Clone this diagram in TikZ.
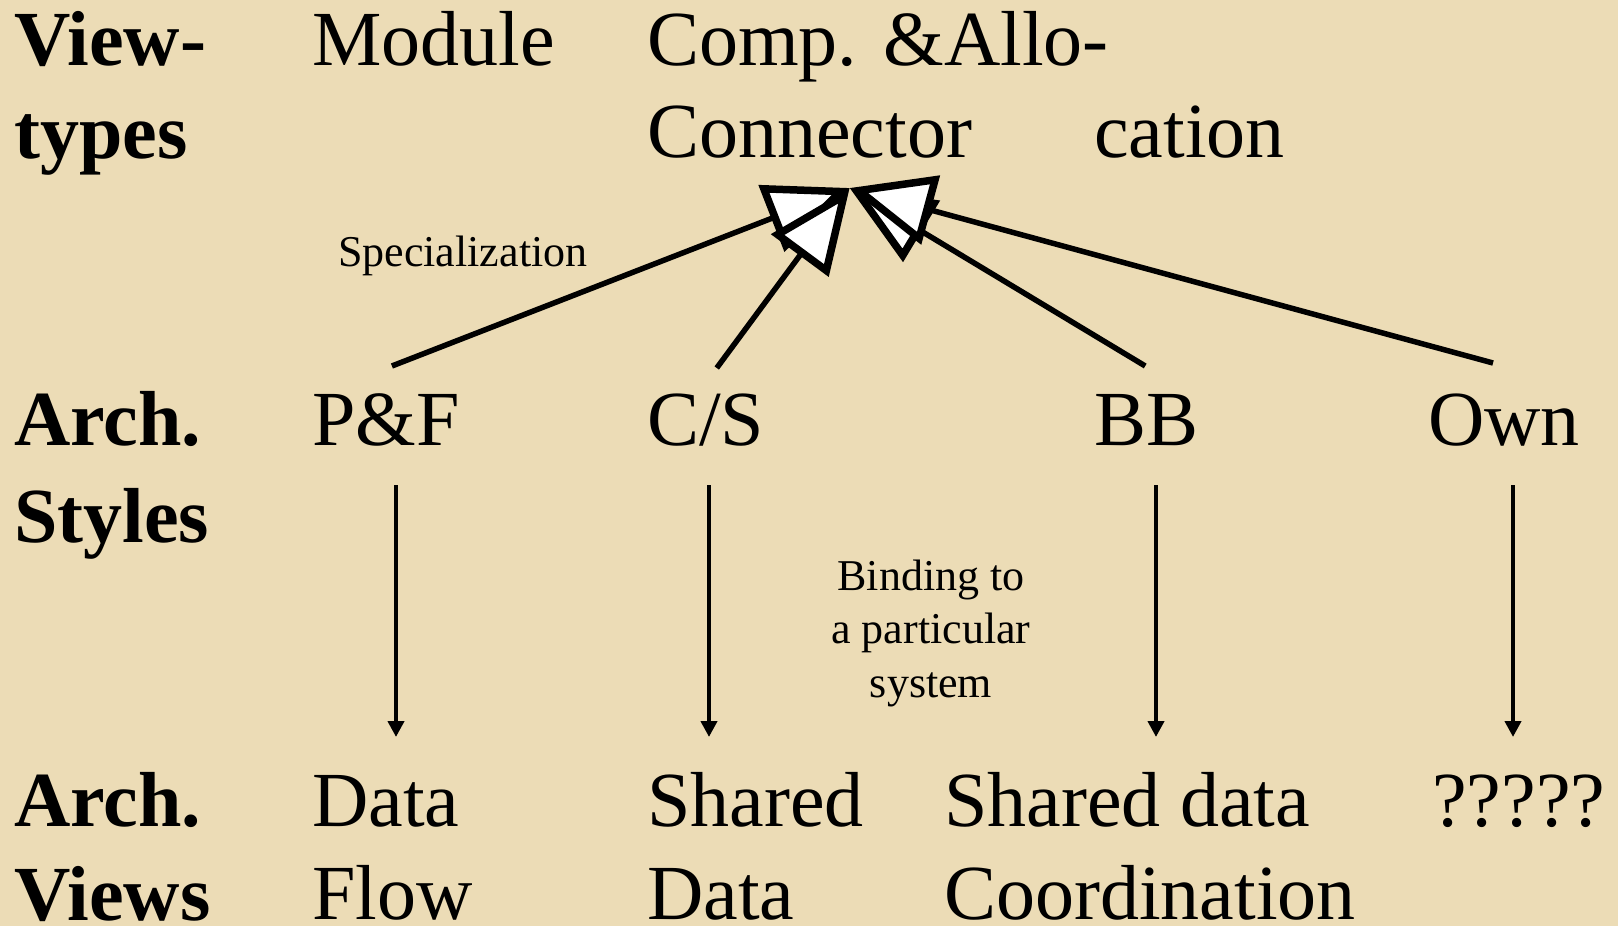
\documentclass[tikz,border=0pt]{standalone}
\usepackage{fontspec}
\setmainfont{Liberation Serif}
\usetikzlibrary{arrows.meta}
\definecolor{parchment}{RGB}{236,220,182}

\begin{document}
\begin{tikzpicture}[x=1pt, y=-1pt,
      big/.style={anchor=base west, inner sep=0pt, align=left,
        font=\fontsize{78}{93}\selectfont},
      hdr/.style={big, font=\fontsize{78}{94}\selectfont\bfseries},
      note/.style={inner sep=0pt, align=center, font=\fontsize{44}{53.5}\selectfont},
      spec/.style={line width=5.5pt,
        -{Triangle[length=84pt,width=70pt,fill=white,line width=7.5pt]}},
      down/.style={line width=4.5pt, -{Triangle[length=16pt,width=16pt]},
        shorten <=40pt}]
      \fill[parchment] (0,0) rectangle (1618,926);
      \useasboundingbox (0,0) rectangle (1618,926);
      % left column (multi-line nodes sit on their last line)
      \node[hdr, font=\fontsize{78}{93}\selectfont\bfseries] (vt) at (14,158) {View-\\types};
      \node[hdr, font=\fontsize{78}{97}\selectfont\bfseries] (as) at (14,542) {Arch.\\Styles};
      \node[hdr] (av) at (14,920) {Arch.\\Views};
      % viewtypes
      \node[big] (module) at (312,65) {Module};
      \node[big] (comp) at (647,65) {Comp. \&Allo-};
      \node[big] (conn) at (647,157) {Connector};
      \node[big] (cation) at (1094,157) {cation};
      \node[note, anchor=base west] (speclbl) at (338,266) {Specialization};
      % styles
      \node[big] (pf) at (312,445) {P\&F};
      \node[big] (cs) at (647,445) {C/S};
      \node[big] (bb) at (1094,445) {BB};
      \node[big] (own) at (1428,445) {Own};
      \node[note, anchor=base] (bind) at (931,697) {Binding to\\a particular\\system};
      % views
      \node[big] (dflow) at (312,919) {Data\\Flow};
      \node[big] (sdata) at (647,919) {Shared\\Data};
      \node[big] (scoord) at (944,919) {Shared data\\Coordination};
      \node[big] (qq) at (1432,826) {?????};
      % specialization
      \coordinate (tip) at ([shift={(40pt,-31pt)}]conn.base);
      \foreach \s/\dx/\dy in {pf/6pt/79pt, cs/11pt/77pt, bb/-1pt/79pt, own/-11pt/82pt}
        \draw[spec] ([shift={(\dx,\dy)}]\s.base) -- (tip);
      % binding
      \foreach \a/\b/\x/\gap in {pf/dflow/396/182pt, cs/sdata/709/182pt,
          bb/scoord/1156/182pt, own/qq/1513/89pt}
        \draw[down, shorten >=\gap] (\a.base -| \x,0) -- (\b.base -| \x,0);
    \end{tikzpicture}
\end{document}
